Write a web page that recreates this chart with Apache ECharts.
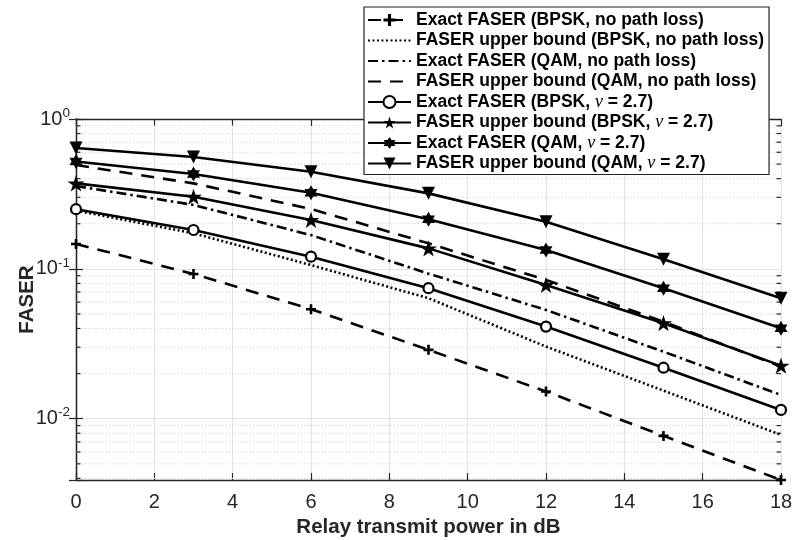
<!DOCTYPE html>
<html>
<head>
<meta charset="utf-8">
<script src="https://cdn.jsdelivr.net/npm/echarts@6/dist/echarts.min.js"></script>
<style>
  html, body { margin: 0; padding: 0; background: #fff; }
  #chart { width: 795px; height: 540px; }
</style>
</head>
<body>
<div id="chart"></div>
<script>
// ---------- data ----------
const xValues = [0, 3, 6, 9, 12, 15, 18];

const seriesNames = [
  'Exact FASER (BPSK, no path loss)',
  'FASER upper bound (BPSK, no path loss)',
  'Exact FASER (QAM, no path loss)',
  'FASER upper bound (QAM, no path loss)',
  'Exact FASER (BPSK, ν = 2.7)',
  'FASER upper bound (BPSK, ν = 2.7)',
  'Exact FASER (QAM, ν = 2.7)',
  'FASER upper bound (QAM, ν = 2.7)'
];

const exactBpskNoPL   = [0.1466, 0.0925, 0.0538, 0.0288, 0.0152, 0.00768, 0.0039];
const boundBpskNoPL   = [0.245, 0.1728, 0.106, 0.0637, 0.0303, 0.0154, 0.0078];
const exactQamNoPL    = [0.357, 0.267, 0.168, 0.0929, 0.0532, 0.028, 0.0144];
const boundQamNoPL    = [0.493, 0.372, 0.251, 0.148, 0.0843, 0.0444, 0.0223];
const exactBpskNu     = [0.250, 0.1817, 0.1206, 0.0743, 0.0412, 0.0219, 0.01145];
const boundBpskNu     = [0.372, 0.303, 0.212, 0.137, 0.078, 0.0434, 0.0226];
const exactQamNu      = [0.520, 0.430, 0.322, 0.214, 0.1337, 0.0743, 0.0402];
const boundQamNu      = [0.640, 0.558, 0.445, 0.319, 0.2065, 0.116, 0.0637];

const xTicks = [0, 2, 4, 6, 8, 10, 12, 14, 16, 18];
const yMin = 0.0039, yMax = 1;
const xMin = 0, xMax = 18, xStep = 2;
const yMinorTicks = [0.004, 0.005, 0.006, 0.007, 0.008, 0.009,
                     0.02, 0.03, 0.04, 0.05, 0.06, 0.07, 0.08, 0.09,
                     0.2, 0.3, 0.4, 0.5, 0.6, 0.7, 0.8, 0.9];

// ---------- styles ----------
const FONT = '"Liberation Sans", Arial, Helvetica, sans-serif';
const AXIS_COLOR = '#262626';
const PLUS = 'path://M-1.3,-5 H1.3 V-1.3 H5 V1.3 H1.3 V5 H-1.3 V1.3 H-5 V-1.3 H-1.3 Z';
const PENTA = 'path://M0,-10 L2.245,-3.09 L9.511,-3.09 L3.633,1.18 L5.878,8.09 L0,3.82 L-5.878,8.09 L-3.633,1.18 L-9.511,-3.09 L-2.245,-3.09 Z';
const HEXA = 'path://M0,-10 L2.887,-5 L8.66,-5 L5.77,0 L8.66,5 L2.887,5 L0,10 L-2.887,5 L-8.66,5 L-5.77,0 L-8.66,-5 L-2.887,-5 Z';

const allValues = [exactBpskNoPL, boundBpskNoPL, exactQamNoPL, boundQamNoPL,
                   exactBpskNu, boundBpskNu, exactQamNu, boundQamNu];

const styleDefs = [
  { type: [13, 9], symbol: PLUS, size: 10, fill: '#000' },
  { type: [2, 2.5], symbol: null },
  { type: [10, 4, 2.5, 4], symbol: null },
  { type: [13, 9], symbol: null },
  { type: 'solid', symbol: 'circle', size: 10, fill: '#fff' },
  { type: 'solid', symbol: PENTA, size: 17, fill: '#000' },
  { type: 'solid', symbol: HEXA, size: 15, fill: '#000' },
  { type: 'solid', symbol: 'triangle', size: 13, fill: '#000', rotate: 180 }
];

const lineSeries = seriesNames.map((name, i) => {
  const s = styleDefs[i];
  const hasMarker = !!s.symbol;
  return {
    name: name,
    type: 'line',
    data: xValues.map((x, j) => [x, allValues[i][j]]),
    symbol: hasMarker ? s.symbol : 'circle',
    symbolSize: hasMarker ? s.size : 1,
    symbolRotate: s.rotate || 0,
    symbolKeepAspect: true,
    showSymbol: hasMarker,
    lineStyle: { color: '#000', width: 2.6, type: s.type },
    itemStyle: hasMarker
      ? { color: s.fill, borderColor: '#000', borderWidth: s.symbol === 'circle' ? 2.2 : 0 }
      : { color: 'rgba(0,0,0,0)', borderColor: 'rgba(0,0,0,0)', borderWidth: 0 },
    emphasis: { disabled: true },
    animation: false,
    z: 5 + i
  };
});

// minor log grid & ticks drawn through the axes' scales
const minorSeries = {
  type: 'custom',
  xAxisIndex: 0,
  yAxisIndex: 0,
  silent: true,
  animation: false,
  z: 1,
  data: yMinorTicks.map(v => [xMin, v]),
  renderItem: function (params, api) {
    const v = api.value(1);
    const p0 = api.coord([xMin, v]);
    const p1 = api.coord([xMax, v]);
    const tl = 4.5;
    return {
      type: 'group',
      children: [
        { type: 'line', shape: { x1: p0[0], y1: p0[1], x2: p1[0], y2: p1[1] },
          style: { stroke: '#cfcfcf', lineWidth: 1, lineDash: [1, 2] } },
        { type: 'line', shape: { x1: p0[0], y1: p0[1], x2: p0[0] + tl, y2: p0[1] },
          style: { stroke: AXIS_COLOR, lineWidth: 1.2 } },
        { type: 'line', shape: { x1: p1[0], y1: p1[1], x2: p1[0] - tl, y2: p1[1] },
          style: { stroke: AXIS_COLOR, lineWidth: 1.2 } }
      ]
    };
  }
};

function yLabel(v) {
  const l = Math.log10(v);
  const e = Math.round(l);
  if (Math.abs(l - e) > 1e-6) return '';
  return '{b|10}{s|' + e + '}';
}

const xAxisBase = {
  type: 'value', min: xMin, max: xMax, interval: xStep,
  axisLine: { show: true, lineStyle: { color: AXIS_COLOR, width: 1.3 } },
  axisTick: { show: true, inside: true, length: 7, lineStyle: { color: AXIS_COLOR, width: 1.2 } },
};

const option = {
  backgroundColor: '#fff',
  animation: false,
  textStyle: { fontFamily: FONT },
  grid: { left: 76, right: 14, top: 119, bottom: 60, containLabel: false, outerBoundsMode: 'none' },
  xAxis: [
    Object.assign({}, xAxisBase, {
      position: 'bottom',
      name: 'Relay transmit power in dB',
      nameLocation: 'middle',
      nameGap: 37,
      nameMoveOverlap: false,
      nameTextStyle: { fontSize: 20.5, fontWeight: 'bold', color: AXIS_COLOR, fontFamily: FONT },
      axisLabel: { show: true, fontSize: 20, color: AXIS_COLOR, margin: 12, fontFamily: FONT,
                   formatter: v => (xTicks.indexOf(v) >= 0 ? String(v) : '') },
      splitLine: { show: true, lineStyle: { color: '#e3e3e3', width: 1 } }
    }),
    Object.assign({}, xAxisBase, {
      position: 'top',
      axisLabel: { show: false },
      splitLine: { show: false }
    })
  ],
  yAxis: [
    {
      type: 'log', logBase: 10, min: yMin, max: yMax, position: 'left',
      name: 'FASER',
      nameLocation: 'middle',
      nameGap: 38,
      nameMoveOverlap: false,
      nameRotate: 90,
      nameTextStyle: { fontSize: 20.5, fontWeight: 'bold', color: AXIS_COLOR, fontFamily: FONT },
      axisLine: { show: true, lineStyle: { color: AXIS_COLOR, width: 1.3 } },
      axisTick: { show: true, inside: true, length: 7, lineStyle: { color: AXIS_COLOR, width: 1.2 } },
      axisLabel: {
        show: true, margin: 6, color: AXIS_COLOR, fontFamily: FONT,
        showMinLabel: true, showMaxLabel: true,
        formatter: yLabel,
        rich: {
          b: { fontSize: 20, color: AXIS_COLOR, fontFamily: FONT },
          s: { fontSize: 13.5, color: AXIS_COLOR, fontFamily: FONT, padding: [0, 0, 12, 0] }
        }
      },
      splitLine: { show: true, lineStyle: { color: '#e3e3e3', width: 1 } }
    },
    {
      type: 'log', logBase: 10, min: yMin, max: yMax, position: 'right',
      axisLine: { show: true, lineStyle: { color: AXIS_COLOR, width: 1.3 } },
      axisTick: { show: true, inside: true, length: 7, lineStyle: { color: AXIS_COLOR, width: 1.2 } },
      axisLabel: { show: false },
      splitLine: { show: false }
    }
  ],
  legend: {
    show: true,
    orient: 'vertical',
    left: 364,
    top: 7,
    data: seriesNames,
    backgroundColor: '#fff',
    borderColor: '#222',
    borderWidth: 1.2,
    borderRadius: 0,
    padding: [4, 5, 2, 3],
    itemGap: 2.5,
    itemWidth: 43,
    itemHeight: 15,
    selectedMode: false,
    textStyle: {
      fontSize: 17.5, fontWeight: 'bold', color: '#000', fontFamily: FONT,
      rich: {
        nu: { fontSize: 18, fontStyle: 'italic', fontWeight: 'normal', fontFamily: '"Liberation Serif", "DejaVu Serif", serif', color: '#000' }
      }
    },
    formatter: name => name.replace('ν', '{nu|ν}')
  },
  series: [minorSeries].concat(lineSeries)
};

const chart = echarts.init(document.getElementById('chart'), null, { renderer: 'canvas' });
chart.setOption(option);
</script>
</body>
</html>
